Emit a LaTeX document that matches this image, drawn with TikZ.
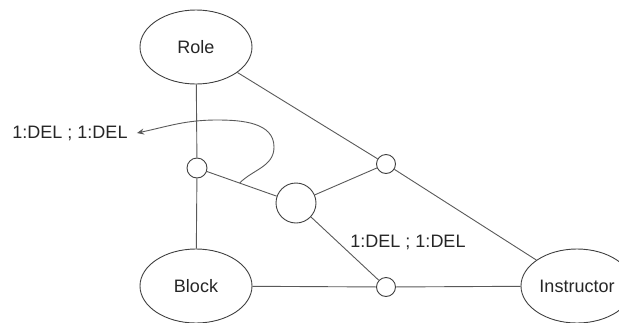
\documentclass[tikz,border=0pt]{standalone}
\usepackage{fontspec}
\setmainfont{Liberation Sans}
\usetikzlibrary{shapes.geometric,calc,arrows.meta}
\begin{document}
\begin{tikzpicture}[x=1pt,y=-1pt,
  line width=0.9pt,
  ent/.style={ellipse,draw=black!75,line width=0.9pt,minimum width=112pt,minimum height=74pt,inner sep=0pt,font=\fontsize{18}{20}\selectfont,text=black!85},
  dot/.style={circle,draw=black!75,line width=0.9pt,fill=white,minimum size=#1,inner sep=0pt},
  lbl/.style={font=\fontsize{18}{20}\selectfont,text=black!85,inner sep=0pt},
  conn/.style={draw=black!65,line width=0.9pt}]
\useasboundingbox (0,0) rectangle (619,322);
\begin{scope}
\clip (0,0) rectangle (619,322);
\node[ent] (role) at (196,47) {Role};
\node[ent] (block) at (196,286) {Block};
\node[ent] (instr) at (577,286) {Instructor};
\node[dot=20pt] (c1) at (197,168) {};
\node[dot=40pt] (big) at (296,203) {};
\node[dot=19pt] (c2) at (386,164) {};
\node[dot=19pt] (c3) at (386,287) {};
\node[lbl] (l1) at (70,133) {1:DEL ; 1:DEL};
\node[lbl] (l2) at (408,242) {1:DEL ; 1:DEL};
\draw[conn] (role) -- (c1);
\draw[conn] (c1) -- (block);
\draw[conn] (c1) -- (big);
\draw[conn] (big) -- (c2);
\draw[conn] (big) -- (c3);
\draw[conn] (role) -- (c2);
\draw[conn] (c2) -- (instr);
\draw[conn] (block) -- (c3);
\draw[conn] (c3) -- (instr);
\coordinate (s) at ($(c1)!0.43!(big)$);
\coordinate (r) at (274,147);
\coordinate (t) at (217,120);
\draw[conn,-{Stealth[length=7pt,width=6pt]}] (s) to[out=45,in=-90] (r) to[out=90,in=0] (t) to[out=180,in=12] ($(l1.east)+(9,0)$);
\end{scope}
\end{tikzpicture}
\end{document}
